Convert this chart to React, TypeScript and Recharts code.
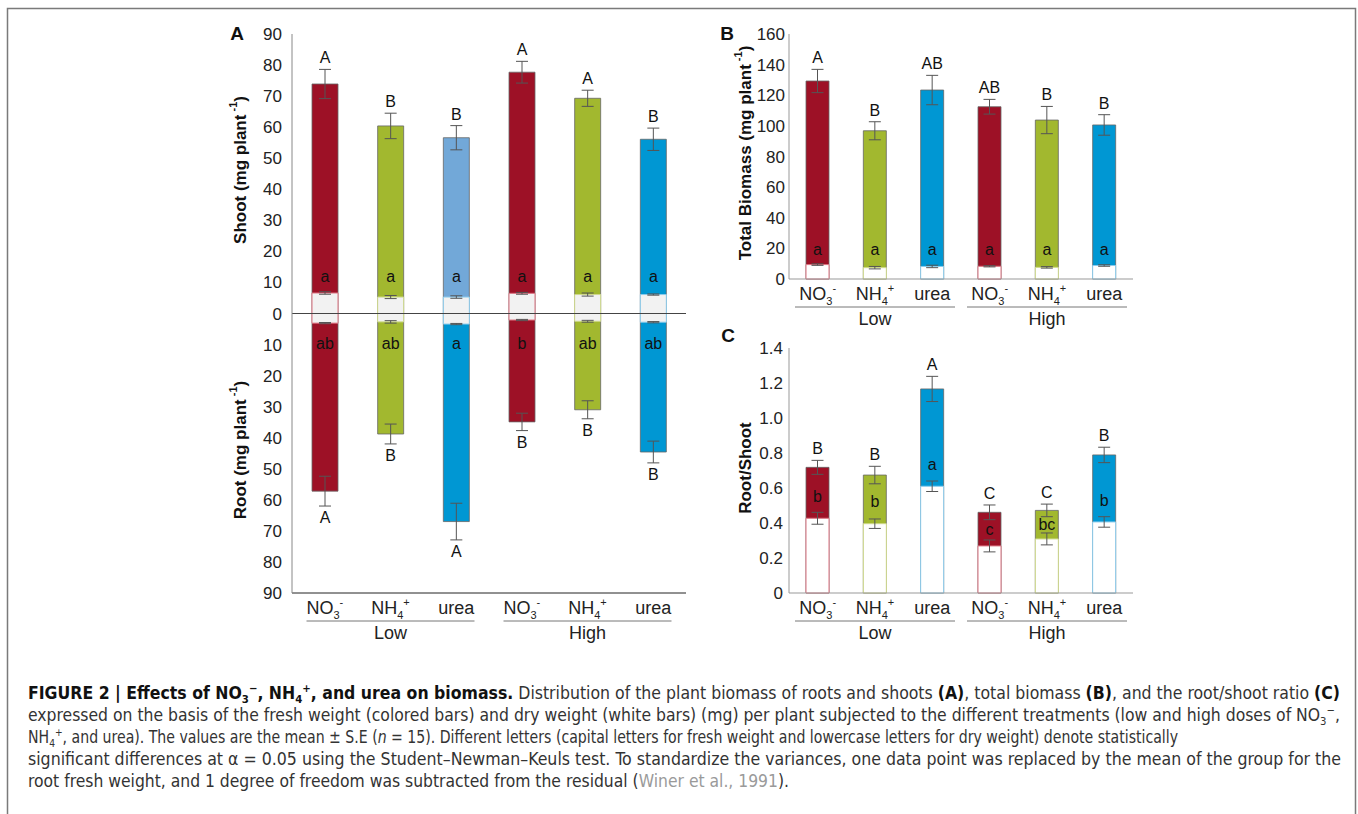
import React from "react";
import { BarChart, Bar, XAxis, YAxis, ErrorBar, Cell, LabelList, ReferenceLine } from "recharts";

// treatments along the x axis
const treatments = ["NO3", "NH4", "urea", "NO3", "NH4", "urea"];
const doses = ["Low", "Low", "Low", "High", "High", "High"];

// A: shoot and root weight (mg plant-1), fresh = coloured, dry = white
const shootFresh = [73.9, 60.4, 56.6, 77.7, 69.3, 56.1];
const shootFreshErr = [4.7, 4.1, 3.9, 3.5, 2.6, 3.6];
const shootDry = [6.6, 5.3, 5.3, 6.5, 6.1, 6.1];
const shootDryErr = [0.4, 0.5, 0.4, 0.3, 0.5, 0.2];
const rootFresh = [57.2, 38.8, 67.0, 34.9, 31.0, 44.6];
const rootFreshErr = [4.8, 3.2, 5.9, 2.8, 2.9, 3.5];
const rootDry = [3.1, 2.7, 3.4, 2.1, 2.5, 2.8];
const rootDryErr = [0.2, 0.4, 0.2, 0.2, 0.3, 0.2];
const shootLetters = ["A", "B", "B", "A", "A", "B"];
const shootDryLetters = ["a", "a", "a", "a", "a", "a"];
const rootLetters = ["A", "B", "A", "B", "B", "B"];
const rootDryLetters = ["ab", "ab", "a", "b", "ab", "ab"];

// B: total biomass (mg plant-1)
const totalFresh = [129.3, 96.8, 123.4, 112.5, 103.8, 100.6];
const totalFreshErr = [7.6, 5.9, 9.6, 4.8, 8.9, 6.7];
const totalDry = [9.4, 7.4, 8.2, 8.3, 7.6, 8.8];
const totalDryErr = [0.5, 0.8, 0.8, 0.4, 0.5, 0.5];
const totalLetters = ["A", "B", "AB", "AB", "B", "B"];
const totalDryLetters = ["a", "a", "a", "a", "a", "a"];

// C: root/shoot ratio
const ratioFresh = [0.718, 0.674, 1.166, 0.461, 0.472, 0.789];
const ratioFreshErr = [0.04, 0.05, 0.072, 0.042, 0.036, 0.044];
const ratioDry = [0.427, 0.396, 0.61, 0.269, 0.309, 0.406];
const ratioDryErr = [0.034, 0.027, 0.03, 0.034, 0.034, 0.03];
const ratioLetters = ["B", "B", "A", "C", "C", "B"];
const ratioDryLetters = ["b", "b", "a", "c", "bc", "b"];

const ticksA = [-90, -80, -70, -60, -50, -40, -30, -20, -10, 0, 10, 20, 30, 40, 50, 60, 70, 80, 90];
const ticksB = [0, 20, 40, 60, 80, 100, 120, 140, 160];
const ticksC = [0, 0.2, 0.4, 0.6, 0.8, 1.0, 1.2, 1.4];

const RED = "#9d1126";
const GREEN = "#a2b82f";
const BLUE = "#0097d3";
const freshColors = [RED, GREEN, BLUE, RED, GREEN, BLUE];
const shootColors = [RED, GREEN, "#72a8d8", RED, GREEN, BLUE];
const dryStrokes = ["#dc7482", "#cfd98c", "#8ccbeb", "#dc7482", "#cfd98c", "#8ccbeb"];

const FONT = "'Liberation Sans', Arial, Helvetica, sans-serif";

const dataA = treatments.map((t, i) => ({
  id: `${t}-${doses[i]}`,
  shootFresh: shootFresh[i],
  shootFreshErr: shootFreshErr[i],
  shootDry: shootDry[i],
  shootDryErr: shootDryErr[i],
  rootFresh: -rootFresh[i],
  rootFreshErr: rootFreshErr[i],
  rootDry: -rootDry[i],
  rootDryErr: rootDryErr[i],
}));

const dataB = treatments.map((t, i) => ({
  id: `${t}-${doses[i]}`,
  fresh: totalFresh[i],
  freshErr: totalFreshErr[i],
  dry: totalDry[i],
  dryErr: totalDryErr[i],
}));

const dataC = treatments.map((t, i) => ({
  id: `${t}-${doses[i]}`,
  fresh: ratioFresh[i],
  freshErr: ratioFreshErr[i],
  dry: ratioDry[i],
  dryErr: ratioDryErr[i],
}));

// lowercase letters in C sit inside the coloured part of the bar
const ratioInnerAt = ratioFresh.map((f, i) => Math.min(ratioDry[i] + 0.125, (ratioDry[i] + f) / 2));

// capital letter past the error bar, lowercase one inside the bar
const BarLetters = (props: any) => {
  const { value, index, caps, errs, inner, innerAt } = props;
  const box = props.viewBox && props.viewBox.width != null ? props.viewBox : props;
  const { x, y, width, height } = box;
  const v = Number(value);
  if (x == null || y == null || !v) return null;
  const top = Math.min(y, y + height);
  const bot = Math.max(y, y + height);
  const k = (bot - top) / Math.abs(v);
  const zero = v >= 0 ? bot : top;
  const py = (val: number) => zero - val * k;
  const cx = x + width / 2;
  const end = py(v + Math.sign(v) * errs[index]);
  const at = Array.isArray(innerAt) ? innerAt[index] : innerAt;
  return (
    <g fontFamily={FONT} fontSize={16} fill="#111">
      <text x={cx} y={v >= 0 ? end - 6 : end + 17} textAnchor="middle">
        {caps[index]}
      </text>
      {inner && (
        <text x={cx} y={py(at)} textAnchor="middle" dominantBaseline="central">
          {inner[index]}
        </text>
      )}
    </g>
  );
};

const XTick = (props: any) => {
  const { x, y, payload, half } = props;
  const i = props.index ?? payload.index;
  const t = treatments[i];
  const parts = t === "NO3" ? ["NO", "3", "-"] : t === "NH4" ? ["NH", "4", "+"] : ["urea"];
  return (
    <g fontFamily={FONT} fill="#222">
      <text x={x} y={y + 21} textAnchor="middle" fontSize={18}>
        {parts[0]}
        {parts.length > 1 && (
          <>
            <tspan dy={5} fontSize={11}>
              {parts[1]}
            </tspan>
            <tspan dy={-13} fontSize={11}>
              {parts[2]}
            </tspan>
          </>
        )}
      </text>
      {(i === 1 || i === 4) && (
        <g>
          <line x1={x - half} x2={x + half} y1={y + 28} y2={y + 28} stroke="#777" strokeWidth={1} />
          <text x={x} y={y + 46} textAnchor="middle" fontSize={18}>
            {doses[i]}
          </text>
        </g>
      )}
    </g>
  );
};

const errStyle = { stroke: "#555", strokeWidth: 1, width: 6 };
const tickFont = { fontSize: 17, fill: "#222", fontFamily: FONT };

const PanelA = () => (
  <BarChart
    width={500}
    height={660}
    data={dataA}
    margin={{ top: 34, right: 14, left: 0, bottom: 7 }}
    barSize={26}
    barGap={-26}
  >
    <XAxis
      dataKey="id"
      interval={0}
      height={60}
      tickSize={0}
      tickMargin={0}
      tickLine={false}
      axisLine={{ stroke: "#222" }}
      tick={(p: any) => <XTick {...p} half={84} />}
    />
    <XAxis xAxisId="top" orientation="top" dataKey="id" height={0} tick={false} tickLine={false} axisLine={{ stroke: "#999" }} />
    <YAxis
      domain={[-90, 90]}
      ticks={ticksA}
      interval={0}
      width={92}
      tickSize={0}
      tickMargin={10}
      tickLine={false}
      axisLine={{ stroke: "#888" }}
      tick={tickFont}
      tickFormatter={(v: number) => String(Math.abs(v))}
    />
    <YAxis yAxisId="right" orientation="right" width={0} tick={false} tickLine={false} axisLine={{ stroke: "#222" }} />
    <Bar dataKey="shootFresh" isAnimationActive={false} stroke="#666" strokeWidth={0.8}>
      {dataA.map((_, i) => (
        <Cell key={i} fill={shootColors[i]} />
      ))}
      <ErrorBar dataKey="shootFreshErr" direction="y" {...errStyle} />
    </Bar>
    <Bar dataKey="rootFresh" isAnimationActive={false} stroke="#666" strokeWidth={0.8}>
      {dataA.map((_, i) => (
        <Cell key={i} fill={freshColors[i]} />
      ))}
      <ErrorBar dataKey="rootFreshErr" direction="y" {...errStyle} />
    </Bar>
    <Bar dataKey="shootDry" isAnimationActive={false} strokeWidth={1}>
      {dataA.map((_, i) => (
        <Cell key={i} fill="#f2f2f2" stroke={dryStrokes[i]} />
      ))}
      <ErrorBar dataKey="shootDryErr" direction="y" {...errStyle} />
    </Bar>
    <Bar dataKey="rootDry" isAnimationActive={false} strokeWidth={1}>
      {dataA.map((_, i) => (
        <Cell key={i} fill="#f2f2f2" stroke={dryStrokes[i]} />
      ))}
      <ErrorBar dataKey="rootDryErr" direction="y" {...errStyle} />
    </Bar>
    <ReferenceLine y={0} stroke="#444" strokeWidth={1} />
    <Bar dataKey="shootFresh" isAnimationActive={false} fill="none" legendType="none">
      <LabelList
        dataKey="shootFresh"
        content={(p: any) => <BarLetters {...p} caps={shootLetters} errs={shootFreshErr} inner={shootDryLetters} innerAt={12} />}
      />
    </Bar>
    <Bar dataKey="rootFresh" isAnimationActive={false} fill="none" legendType="none">
      <LabelList
        dataKey="rootFresh"
        content={(p: any) => <BarLetters {...p} caps={rootLetters} errs={rootFreshErr} inner={rootDryLetters} innerAt={-9.7} />}
      />
    </Bar>
  </BarChart>
);

const SmallPanel = ({ data, ticks, domain, fmt, caps, errs, inner, innerAt, tickMargin, margin }: any) => (
  <BarChart width={440} height={340} data={data} margin={margin} barSize={23} barGap={-23}>
    <XAxis
      dataKey="id"
      interval={0}
      height={60}
      tickSize={0}
      tickMargin={0}
      tickLine={false}
      axisLine={{ stroke: "#999" }}
      tick={(p: any) => <XTick {...p} half={80} />}
    />
    <XAxis xAxisId="top" orientation="top" dataKey="id" height={0} tick={false} tickLine={false} axisLine={{ stroke: "#aaa" }} />
    <YAxis
      domain={domain}
      ticks={ticks}
      interval={0}
      width={89}
      tickSize={0}
      tickMargin={tickMargin}
      tickLine={false}
      axisLine={{ stroke: "#999" }}
      tick={tickFont}
      tickFormatter={fmt}
    />
    <YAxis yAxisId="right" orientation="right" width={0} tick={false} tickLine={false} axisLine={{ stroke: "#999" }} />
    <Bar dataKey="fresh" isAnimationActive={false} stroke="#666" strokeWidth={0.8}>
      {data.map((_: any, i: number) => (
        <Cell key={i} fill={freshColors[i]} />
      ))}
      <ErrorBar dataKey="freshErr" direction="y" {...errStyle} />
      <LabelList
        dataKey="fresh"
        content={(p: any) => <BarLetters {...p} caps={caps} errs={errs} inner={inner} innerAt={innerAt} />}
      />
    </Bar>
    <Bar dataKey="dry" isAnimationActive={false} strokeWidth={1}>
      {data.map((_: any, i: number) => (
        <Cell key={i} fill="#ffffff" stroke={dryStrokes[i]} />
      ))}
      <ErrorBar dataKey="dryErr" direction="y" {...errStyle} />
    </Bar>
  </BarChart>
);

const Title = ({ x, y, text }: { x: number; y: number; text: string }) => (
  <text
    x={x}
    y={y}
    transform={`rotate(-90 ${x} ${y})`}
    textAnchor="middle"
    dominantBaseline="central"
    fontFamily={FONT}
    fontWeight="bold"
    fontSize={17}
    fill="#111"
  >
    {text}
    {text !== "Root/Shoot" && (
      <>
        {" (mg plant"}
        <tspan dy={-7} fontSize={11}>
          {" -1"}
        </tspan>
        <tspan dy={7}>)</tspan>
      </>
    )}
  </text>
);

const CAP = "'Liberation Sans Narrow', 'DejaVu Sans Condensed', 'Liberation Sans', sans-serif";
const capProps = { x: 28, fontSize: 17, fontFamily: CAP, fill: "#333", lengthAdjust: "spacingAndGlyphs" as const };

const Caption = () => (
  <g>
    <text {...capProps} y={699} textLength={1312}>
      <tspan fontWeight="bold" fill="#111">FIGURE 2 | Effects of NO</tspan>
      <tspan fontWeight="bold" fill="#111" fontSize={11} dy={4}>3</tspan>
      <tspan fontWeight="bold" fill="#111" fontSize={11} dy={-11}>−</tspan>
      <tspan fontWeight="bold" fill="#111" dy={7}>, NH</tspan>
      <tspan fontWeight="bold" fill="#111" fontSize={11} dy={4}>4</tspan>
      <tspan fontWeight="bold" fill="#111" fontSize={11} dy={-11}>+</tspan>
      <tspan fontWeight="bold" fill="#111" dy={7}>, and urea on biomass.</tspan>
      <tspan> Distribution of the plant biomass of roots and shoots </tspan>
      <tspan fontWeight="bold" fill="#111">(A)</tspan>
      <tspan>, total biomass </tspan>
      <tspan fontWeight="bold" fill="#111">(B)</tspan>
      <tspan>, and the root/shoot ratio </tspan>
      <tspan fontWeight="bold" fill="#111">(C)</tspan>
    </text>
    <text {...capProps} y={721} textLength={1312}>
      <tspan>
        expressed on the basis of the fresh weight (colored bars) and dry weight (white bars) (mg) per plant subjected to the different treatments (low and high doses of NO
      </tspan>
      <tspan fontSize={11} dy={4}>3</tspan>
      <tspan fontSize={11} dy={-11}>−</tspan>
      <tspan dy={7}>,</tspan>
    </text>
    <text {...capProps} y={743} textLength={1150}>
      <tspan>NH</tspan>
      <tspan fontSize={11} dy={4}>4</tspan>
      <tspan fontSize={11} dy={-11}>+</tspan>
      <tspan dy={7}>, and urea). The values are the mean ± S.E (</tspan>
      <tspan fontStyle="italic">n</tspan>
      <tspan>
        {" "}= 15). Different letters (capital letters for fresh weight and lowercase letters for dry weight) denote statistically
      </tspan>
    </text>
    <text {...capProps} y={765} textLength={1313}>
      significant differences at α = 0.05 using the Student–Newman–Keuls test. To standardize the variances, one data point was replaced by the mean of the group for the
    </text>
    <text {...capProps} y={787} textLength={761}>
      <tspan>root fresh weight, and 1 degree of freedom was subtracted from the residual (</tspan>
      <tspan fill="#9a9a9a">Winer et al., 1991</tspan>
      <tspan>).</tspan>
    </text>
  </g>
);

export default function App() {
  return (
    <div style={{ position: "absolute", left: 0, top: 0, width: 1358, height: 814, background: "#fff", overflow: "hidden", fontFamily: FONT }}>
      <div style={{ position: "absolute", left: 200, top: 0 }}>
        <PanelA />
      </div>
      <div style={{ position: "absolute", left: 700, top: 0 }}>
        <SmallPanel
          data={dataB}
          ticks={ticksB}
          domain={[0, 160]}
          fmt={(v: number) => String(v)}
          caps={totalLetters}
          errs={totalFreshErr}
          inner={totalDryLetters}
          innerAt={19}
          tickMargin={4}
          margin={{ top: 34, right: 7, left: 0, bottom: 1 }}
        />
      </div>
      <div style={{ position: "absolute", left: 700, top: 320 }}>
        <SmallPanel
          data={dataC}
          ticks={ticksC}
          domain={[0, 1.4]}
          fmt={(v: number) => (v === 0 ? "0" : v.toFixed(1))}
          caps={ratioLetters}
          errs={ratioFreshErr}
          inner={ratioDryLetters}
          innerAt={ratioInnerAt}
          tickMargin={6}
          margin={{ top: 28, right: 7, left: 0, bottom: 7 }}
        />
      </div>
      <svg width={1358} height={814} style={{ position: "absolute", left: 0, top: 0, pointerEvents: "none" }}>
        <path d="M7.5 814 L7.5 8.5 L1355.5 8.5 L1355.5 814" fill="none" stroke="#7a7a7a" strokeWidth={1.5} />
        <g fontFamily={FONT} fontWeight="bold" fontSize={19} fill="#111" textAnchor="middle">
          <text x={237} y={40}>A</text>
          <text x={727} y={40}>B</text>
          <text x={728} y={342}>C</text>
        </g>
        <Title x={240} y={170} text="Shoot" />
        <Title x={240} y={450} text="Root" />
        <Title x={745} y={153} text="Total Biomass" />
        <Title x={745} y={468} text="Root/Shoot" />
        <Caption />
      </svg>
    </div>
  );
}
